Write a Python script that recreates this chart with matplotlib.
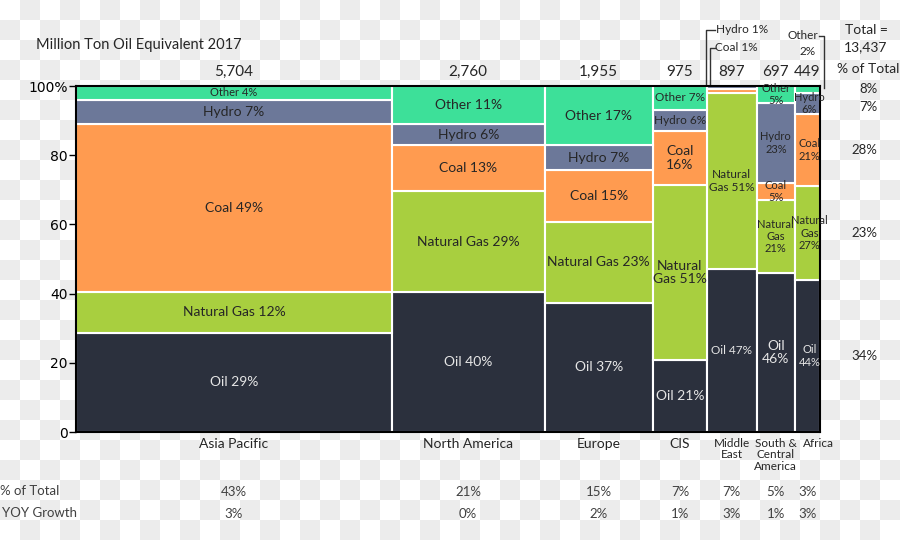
import numpy as np
import matplotlib.pyplot as plt
from matplotlib.colors import ListedColormap

# Energy consumption 2017, million ton oil equivalent
regions = ['Asia Pacific', 'North America', 'Europe', 'CIS', 'Middle\nEast',
           'South &\nCentral\nAmerica', 'Africa']
totals = [5704, 2760, 1955, 975, 897, 697, 449]
fuels = ['Oil', 'Natural Gas', 'Coal', 'Hydro', 'Other']
oil = [29, 40, 37, 21, 47, 46, 44]
gas = [12, 29, 23, 51, 51, 21, 27]
coal = [49, 13, 15, 16, 1, 5, 21]
hydro = [7, 6, 7, 6, 1, 23, 6]
other = [4, 11, 17, 7, 0, 5, 2]
share_total = ['43%', '21%', '15%', '7%', '7%', '5%', '3%']
yoy_growth = ['3%', '0%', '2%', '1%', '3%', '1%', '3%']
fuel_share = ['34%', '23%', '28%', '7%', '8%']
grand_total = '13,437'

colors = ['#2b303d', '#a8cf3f', '#ff9b50', '#6c7899', '#3de099']
txt_dark = '#262626'

plt.rcParams['font.family'] = ['Lato', 'DejaVu Sans']

fig = plt.figure(figsize=(9, 5.4), dpi=100)

# transparent-png checkerboard behind everything
bg = fig.add_axes([0, 0, 1, 1], zorder=-10)
checker = np.add.outer(np.arange(27), np.arange(45)) % 2
bg.imshow(checker, cmap=ListedColormap(['white', '#ececec']), aspect='auto',
          interpolation='nearest', extent=(0, 900, 540, 0))
bg.axis('off')

ax = fig.add_axes([76/900, 108/540, 744/900, 346/540])
ax.patch.set_alpha(0)

shares = np.array([oil, gas, coal, hydro, other], dtype=float)
pct = shares / shares.sum(axis=0) * 100
widths = np.array(totals, dtype=float)
lefts = np.concatenate([[0], np.cumsum(widths)[:-1]])
centers = lefts + widths / 2

bottoms = np.zeros(len(regions))
for k in range(len(fuels)):
    ax.bar(lefts, pct[k], width=widths, bottom=bottoms, align='edge',
           color=colors[k], edgecolor='white', linewidth=1.5)
    bottoms += pct[k]

# how each segment label is broken into lines
modes = [
    ['line'] * 5,
    ['line'] * 5,
    ['line'] * 5,
    ['line', 'gas2', 'stack', 'line', 'line'],
    ['line', 'gas2', None, None, None],
    ['stack'] * 5,
    ['stack', 'stack', 'stack', 'stack', None],
]
region_size = [10, 10, 10, 10, 8.5, 8, 8]


def seg_label(name, v, mode):
    if mode == 'line':
        return f'{name} {v}%'
    if mode == 'gas2':
        return f'Natural\nGas {v}%'
    return '\n'.join(name.split(' ') + [f'{v}%'])


for i in range(len(regions)):
    b = 0
    for k in range(len(fuels)):
        v = shares[k, i]
        h = pct[k, i]
        m = modes[i][k]
        if m is not None:
            fs = region_size[i]
            if v < 5:
                fs = 8
            elif i == 3 and m == 'line' and k > 0:
                fs = 8.5
            if i == 5 and k == 0:
                fs = 10
            xoff = 35 if i == 6 else 0
            ax.text(centers[i] + xoff, b + h / 2, seg_label(fuels[k], int(v), m),
                    ha='center', va='center', fontsize=fs,
                    color='#e6e6e6' if k == 0 else txt_dark,
                    linespacing=1.15)
        b += h

# region totals above the columns
for i in range(len(regions)):
    ax.text(centers[i], 104, f'{totals[i]:,}', ha='center', va='center',
            fontsize=11, color=txt_dark)

# region names and the table rows under the columns
for i in range(len(regions)):
    fs = 10 if i < 4 else 8.5
    xoff = 200 if i == 6 else 0
    ax.text(centers[i] + xoff, -1.6, regions[i], ha='center', va='top',
            fontsize=fs, color=txt_dark, linespacing=1.1)
    ax.text(centers[i], -17.3, share_total[i], ha='center', va='center',
            fontsize=9.5, color='#404040')
    ax.text(centers[i], -23.6, yoy_growth[i], ha='center', va='center',
            fontsize=9.5, color='#404040')

fig.text(0.0, 1 - 491/540, '% of Total', ha='left', va='center',
         fontsize=9.5, color='#404040')
fig.text(0.002, 1 - 513/540, 'YOY Growth', ha='left', va='center',
         fontsize=9.5, color='#404040')

# world share per fuel, lined up with the Africa column
afr_mid = np.cumsum(pct[:, -1]) - pct[:, -1] / 2
afr_mid[3] -= 1.2
for k in range(len(fuels)):
    ax.text(1.077, afr_mid[k], fuel_share[k], ha='right', va='center',
            fontsize=9.5, color=txt_dark, transform=ax.get_yaxis_transform())

fig.text(866/900, 1 - 30/540, 'Total =', ha='center', va='center',
         fontsize=10, color=txt_dark)
fig.text(866/900, 1 - 47/540, grand_total, ha='center', va='center',
         fontsize=10, color=txt_dark)
fig.text(868/900, 1 - 69/540, '% of Total', ha='center', va='center',
         fontsize=10, color=txt_dark)
fig.text(36/900, 1 - 45/540, 'Million Ton Oil Equivalent 2017', ha='left',
         va='center', fontsize=10.5, color=txt_dark)

# callouts for the tiny Middle East / Africa slices
me_l = lefts[4]
ax.plot([me_l - 10, me_l - 10, me_l + 150], [100.3, 116.2, 116.2],
        color='#333333', lw=1, clip_on=False)
ax.text(me_l + 160, 116.2, 'Hydro 1%', ha='left', va='center', fontsize=8.5,
        color=txt_dark)
ax.plot([me_l + 55, me_l + 55, me_l + 140], [100.3, 111.0, 111.0],
        color='#333333', lw=1, clip_on=False)
ax.text(me_l + 150, 111.0, 'Coal 1%', ha='left', va='center', fontsize=8.5,
        color=txt_dark)
end = lefts[-1] + widths[-1]
ax.plot([end - 20, end + 70, end + 70], [114.5, 114.5, 99.5],
        color='#333333', lw=1, clip_on=False)
ax.text(end - 30, 114.5, 'Other', ha='right', va='center', fontsize=8.5,
        color=txt_dark)
ax.text(end - 230, 110.0, '2%', ha='center', va='center', fontsize=8.5,
        color=txt_dark)

ax.set_xlim(0, widths.sum())
ax.set_ylim(0, 100)
ax.set_xticks([])
ax.set_yticks([0, 20, 40, 60, 80, 100])
ax.set_yticklabels(['0', '20', '40', '60', '80', '100%'], family='DejaVu Sans')
ax.tick_params(axis='y', direction='out', length=5, width=1, labelsize=10,
               colors='black', pad=1)
for s in ax.spines.values():
    s.set_linewidth(1.5)
    s.set_color('black')

plt.savefig('out.png', dpi=100)
